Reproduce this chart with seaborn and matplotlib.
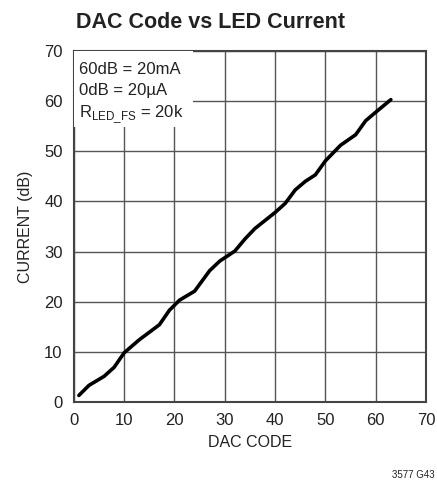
"""DAC code vs LED current curve (datasheet style)."""

import matplotlib

matplotlib.use("Agg")
import matplotlib.pyplot as plt
import pandas as pd
import seaborn as sns
from matplotlib.patches import Rectangle

dac_code = [1, 3, 6, 8, 10, 13, 17, 19, 21, 24, 27, 29, 32, 34, 36, 40, 42, 44,
            46, 48, 50, 53, 56, 58, 60, 63]
current_db = [1.3, 3.3, 5.1, 6.9, 9.8, 12.4, 15.4, 18.3, 20.3, 22.1, 26.2, 28.1,
              30.1, 32.5, 34.6, 37.8, 39.6, 42.3, 44.0, 45.3, 48.1, 51.2, 53.3,
              56.1, 57.8, 60.3]
x_ticks = [0, 10, 20, 30, 40, 50, 60, 70]
y_ticks = [0, 10, 20, 30, 40, 50, 60, 70]
note_lines = ["60dB = 20mA", "0dB = 20\u00b5A", r"R$_{\mathrm{LED\_FS}}$ = 20k"]

FONT = ["Liberation Sans Narrow", "Liberation Sans", "DejaVu Sans"]

sns.set_theme(style="white")
plt.rcParams["font.family"] = FONT
plt.rcParams["mathtext.fontset"] = "custom"
plt.rcParams["mathtext.rm"] = "Liberation Sans"

df = pd.DataFrame({"code": dac_code, "current": current_db})

fig = plt.figure(figsize=(4.37, 4.86), dpi=100)
ax = fig.add_axes([0.169, 0.173, 0.806, 0.722])

sns.lineplot(data=df, x="code", y="current", color="black", lw=2.6, ax=ax,
             solid_capstyle="round", solid_joinstyle="round", zorder=4)

ax.set_xlim(0, 70)
ax.set_ylim(0, 70)
ax.set_xticks(x_ticks)
ax.set_yticks(y_ticks)
ax.tick_params(length=0, labelsize=12, pad=8, colors="#222222")
ax.grid(True, color="#555555", lw=1)
for sp in ax.spines.values():
    sp.set_color("#444444")
    sp.set_linewidth(1.5)

ax.set_xlabel("DAC CODE", fontsize=11.5, color="#222222", labelpad=5)
ax.set_ylabel("CURRENT (dB)", fontsize=11.5, color="#222222", labelpad=8)

# white note box over the grid
ax.add_patch(Rectangle((0, 54.8), 23.6, 15.2, facecolor="white", edgecolor="none", zorder=3))
for i, line in enumerate(note_lines):
    ax.text(1.0, 67.9 - i * 4.2, line, fontsize=12, va="top", ha="left",
            color="#222222", zorder=5)

fig.text(0.174, 0.942, "DAC Code vs LED Current", fontsize=15.5, fontweight="bold",
         color="#222222", ha="left", va="baseline")
fig.text(0.995, 0.012, "3577 G43", fontsize=7, color="#222222", ha="right", va="bottom")

fig.savefig("out.png", dpi=100)
